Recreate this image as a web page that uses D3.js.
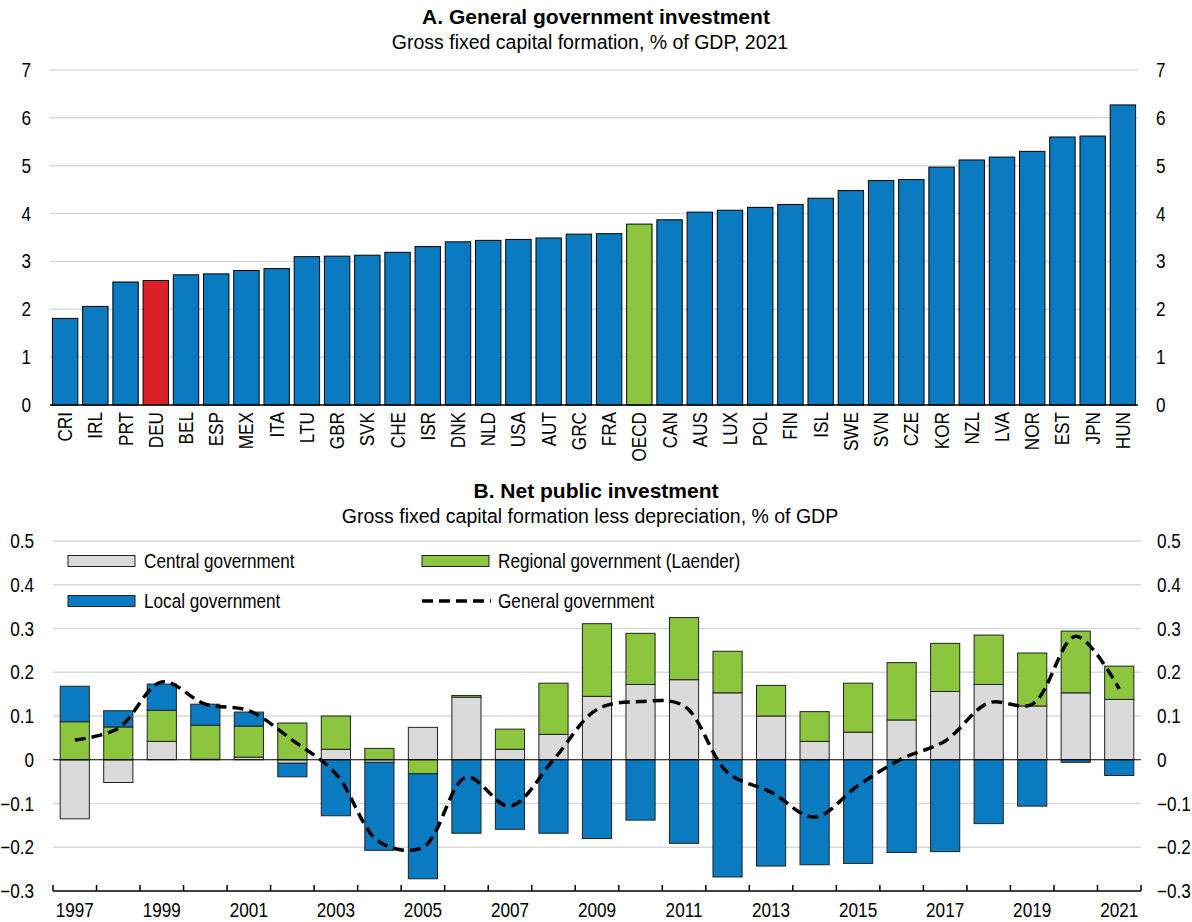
<!DOCTYPE html>
<html>
<head>
<meta charset="utf-8">
<script src="https://cdn.jsdelivr.net/npm/d3@7"></script>
<style>
  body { margin: 0; background: #fff; }
  svg { font-family: "Liberation Sans", Arial, sans-serif; }
  .grid line { stroke: #d9d9d9; stroke-width: 1.5px; }
  .lbl { font-size: 19.5px; fill: #000; }
</style>
</head>
<body>
<script>
// Panel A data
const countries = ["CRI","IRL","PRT","DEU","BEL","ESP","MEX","ITA","LTU","GBR","SVK","CHE","ISR","DNK","NLD","USA","AUT","GRC","FRA","OECD","CAN","AUS","LUX","POL","FIN","ISL","SWE","SVN","CZE","KOR","NZL","LVA","NOR","EST","JPN","HUN"];
const investment = [1.81,2.06,2.57,2.60,2.72,2.74,2.81,2.85,3.10,3.11,3.13,3.19,3.31,3.41,3.44,3.46,3.49,3.57,3.58,3.78,3.87,4.03,4.07,4.13,4.19,4.32,4.48,4.69,4.71,4.97,5.12,5.18,5.30,5.60,5.62,6.27];
const ticksA = [0,1,2,3,4,5,6,7];

// Panel B data
const years = d3.range(1997, 2022);
const central  = [-0.135,-0.052,0.042,0.001,0.006,-0.008,0.024,-0.006,0.074,0.143,0.024,0.058,0.145,0.172,0.183,0.153,0.100,0.042,0.063,0.091,0.156,0.172,0.123,0.153,0.138];
const regional = [0.087,0.075,0.071,0.078,0.071,0.084,0.076,0.026,-0.032,0.004,0.046,0.117,0.166,0.117,0.142,0.095,0.070,0.068,0.112,0.131,0.110,0.113,0.121,0.141,0.076];
const local    = [0.081,0.037,0.060,0.048,0.032,-0.031,-0.128,-0.201,-0.240,-0.168,-0.159,-0.168,-0.180,-0.138,-0.191,-0.268,-0.243,-0.240,-0.237,-0.212,-0.210,-0.146,-0.106,-0.006,-0.036];
const general  = [0.045,0.072,0.178,0.127,0.112,0.045,-0.032,-0.188,-0.200,-0.040,-0.106,0.000,0.115,0.133,0.123,-0.029,-0.074,-0.131,-0.059,0.002,0.043,0.130,0.127,0.282,0.162];
const ticksB = [-0.3,-0.2,-0.1,0,0.1,0.2,0.3,0.4,0.5];

const BLUE = "#0a7bc1", GREEN = "#8cc63f", GREY = "#dadada", RED = "#da2128";
const SX = 0.88; // narrow look for labels

const svg = d3.select("body").append("svg").attr("width", 1192).attr("height", 922);

function titles(y, t, s) {
  svg.append("text").attr("x", 596).attr("y", y).attr("text-anchor", "middle")
    .style("font-size", "21px").style("font-weight", "bold").text(t);
  svg.append("text").attr("x", 590).attr("y", y + 25).attr("text-anchor", "middle")
    .style("font-size", "19.5px").text(s);
}

// ---------- Panel A ----------
titles(24, "A. General government investment", "Gross fixed capital formation, % of GDP, 2021");

const xA = d3.scaleBand().domain(countries).range([50, 1138]).paddingInner(0.16).paddingOuter(0.08);
const yA = d3.scaleLinear().domain([0, 7]).range([405, 70]);

const gA = svg.append("g");
gA.append("g").attr("class", "grid").selectAll("line").data(ticksA.filter(d => d > 0)).join("line")
  .attr("x1", 50).attr("x2", 1138).attr("y1", d => yA(d)).attr("y2", d => yA(d));

gA.selectAll("rect").data(countries).join("rect")
  .attr("x", d => xA(d)).attr("width", xA.bandwidth())
  .attr("y", (d, i) => yA(investment[i])).attr("height", (d, i) => yA(0) - yA(investment[i]))
  .attr("fill", d => d === "DEU" ? RED : d === "OECD" ? GREEN : BLUE)
  .attr("stroke", "#000").attr("stroke-width", 1);

gA.append("line").attr("x1", 50).attr("x2", 1138).attr("y1", yA(0)).attr("y2", yA(0))
  .attr("stroke", "#000").attr("stroke-width", 1.5);

gA.selectAll("text.lbl.c").data(countries).join("text").attr("class", "lbl c")
  .attr("transform", d => `translate(${xA(d) + xA.bandwidth() / 2 + 7},412) rotate(-90) scale(${SX},1)`)
  .attr("text-anchor", "end").text(d => d);

gA.selectAll("text.lbl.yl").data(ticksA).join("text").attr("class", "lbl yl")
  .attr("transform", d => `translate(31,${yA(d) + 7}) scale(${SX},1)`).attr("text-anchor", "end").text(d => d);
gA.selectAll("text.lbl.yr").data(ticksA).join("text").attr("class", "lbl yr")
  .attr("transform", d => `translate(1156,${yA(d) + 7}) scale(${SX},1)`).text(d => d);

// ---------- Panel B ----------
titles(498, "B. Net public investment", "Gross fixed capital formation less depreciation, % of GDP");

const xB = d3.scaleBand().domain(years).range([53, 1141]).paddingInner(0.33).paddingOuter(0.165);
const yB = d3.scaleLinear().domain([-0.3, 0.5]).range([891, 541]);

const gB = svg.append("g");
gB.append("g").attr("class", "grid").selectAll("line").data(ticksB.filter(d => d > -0.3 && d !== 0)).join("line")
  .attr("x1", 53).attr("x2", 1141).attr("y1", d => yB(d)).attr("y2", d => yB(d));

// stacked segments: positives and negatives stacked separately, order central, regional, local
const series = [
  { name: "Central government", vals: central, color: GREY },
  { name: "Regional government (Laender)", vals: regional, color: GREEN },
  { name: "Local government", vals: local, color: BLUE }
];
const segs = [];
years.forEach((yr, i) => {
  let pos = 0, neg = 0;
  series.forEach(s => {
    const v = s.vals[i];
    if (v >= 0) { segs.push({ yr, y0: pos, y1: pos + v, color: s.color }); pos += v; }
    else { segs.push({ yr, y0: neg + v, y1: neg, color: s.color }); neg += v; }
  });
});
gB.selectAll("rect").data(segs).join("rect")
  .attr("x", d => xB(d.yr)).attr("width", xB.bandwidth())
  .attr("y", d => yB(d.y1)).attr("height", d => yB(d.y0) - yB(d.y1))
  .attr("fill", d => d.color).attr("stroke", "#222").attr("stroke-width", 1);

gB.append("line").attr("x1", 53).attr("x2", 1141).attr("y1", yB(0)).attr("y2", yB(0))
  .attr("stroke", "#000").attr("stroke-width", 1.2);

const line = d3.line().x((d, i) => xB(years[i]) + xB.bandwidth() / 2).y(d => yB(d)).curve(d3.curveCatmullRom.alpha(0.5));
gB.append("path").datum(general).attr("d", line).attr("fill", "none")
  .attr("stroke", "#000").attr("stroke-width", 3.5).attr("stroke-dasharray", "11,6");

// bottom axis
gB.append("line").attr("x1", 53).attr("x2", 1141).attr("y1", yB(-0.3)).attr("y2", yB(-0.3))
  .attr("stroke", "#000").attr("stroke-width", 1.5);
const edges = years.map(y => xB(y) - xB.step() * xB.paddingInner() / 2).concat([1141]);
edges[0] = 53;
gB.selectAll("line.tk").data(edges).join("line").attr("class", "tk")
  .attr("x1", d => d).attr("x2", d => d).attr("y1", yB(-0.3)).attr("y2", yB(-0.3) - 6)
  .attr("stroke", "#000").attr("stroke-width", 1.5);
gB.selectAll("text.lbl.yr1").data(years.filter(y => y % 2 === 1)).join("text").attr("class", "lbl yr1")
  .attr("transform", d => `translate(${xB(d) + xB.bandwidth() / 2},917) scale(${SX},1)`)
  .attr("text-anchor", "middle").text(d => d);

const fmt = d => d === 0 ? "0" : d3.format(".1f")(d);
gB.selectAll("text.lbl.yl").data(ticksB).join("text").attr("class", "lbl yl")
  .attr("transform", d => `translate(34,${yB(d) + 7}) scale(${SX},1)`).attr("text-anchor", "end").text(fmt);
gB.selectAll("text.lbl.yr").data(ticksB).join("text").attr("class", "lbl yr")
  .attr("transform", d => `translate(1157,${yB(d) + 7}) scale(${SX},1)`).text(fmt);

// legend
const leg = [
  { name: "Central government", color: GREY, x: 68, y: 561 },
  { name: "Regional government (Laender)", color: GREEN, x: 422, y: 561 },
  { name: "Local government", color: BLUE, x: 68, y: 601 },
  { name: "General government", line: true, x: 422, y: 601 }
];
const lg = gB.selectAll("g.leg").data(leg).join("g").attr("class", "leg")
  .attr("transform", d => `translate(${d.x},${d.y})`);
lg.filter(d => !d.line).append("rect").attr("x", 0).attr("y", -5.5).attr("width", 67).attr("height", 11)
  .attr("fill", d => d.color).attr("stroke", "#222").attr("stroke-width", 1);
lg.filter(d => d.line).append("line").attr("x1", 0).attr("x2", 69).attr("y1", 0).attr("y2", 0)
  .attr("stroke", "#000").attr("stroke-width", 3.5).attr("stroke-dasharray", "11,6");
lg.append("text").attr("class", "lbl").attr("transform", `translate(76,7) scale(${SX},1)`).text(d => d.name);
</script>
</body>
</html>
